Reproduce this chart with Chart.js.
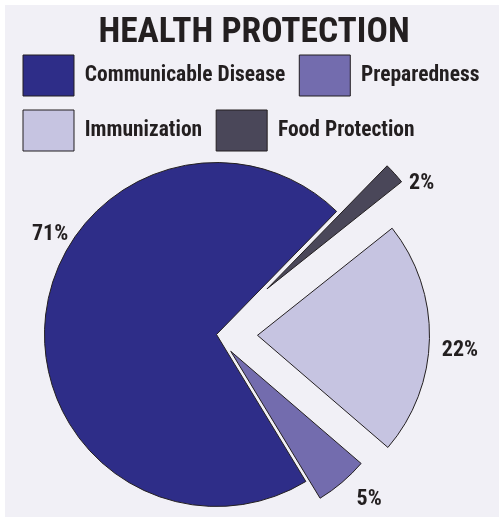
<!DOCTYPE html>
<html>
<head>
<meta charset="utf-8">
<script src="https://cdn.jsdelivr.net/npm/chart.js@4/dist/chart.umd.min.js"></script>
<style>
  html, body { margin: 0; padding: 0; background: #ffffff; overflow: hidden; }
  #chart { position: absolute; left: 5px; top: 5px; background: #f1f0f6; }
</style>
</head>
<body>
<canvas id="chart" width="494" height="512"></canvas>
<script>
// ─── data ───────────────────────────────────────────────────────────────────
const title      = 'HEALTH PROTECTION';
const categories = ['Communicable Disease', 'Preparedness', 'Immunization', 'Food Protection'];
const shares     = [71, 5, 22, 2];   // percent
const colours    = ['#2e2d88', '#736cae', '#c6c4e1', '#4a4759'];

// ─── look ───────────────────────────────────────────────────────────────────
const FONT   = "'Roboto Condensed', Roboto, sans-serif";
const WEIGHT = 'bold condensed';
const INK    = '#231f20';
const RADIUS = 172;
const pulled = [0, 22, 41, 68];          // how far each slice is pulled out, px
const lblDist  = [194, 203, 203, 187];   // label distance from slice tip
const lblShift = [24.4, -2.7, 3.1, 7.9]; // label angle nudge, degrees

// slices run counter-clockwise in the original, so feed them reversed
// and flip the legend back
const rev = a => a.slice().reverse();

// keeps an empty strip on the right so the pie sits left of centre
const sideGap = {
  id: 'sideGap',
  beforeInit(chart, args, opts) {
    Chart.layouts.addBox(chart, {
      position: 'right', weight: 0, fullSize: false, options: {},
      width: 0, height: 0, left: 0, top: 0, right: 0, bottom: 0,
      update(maxW, maxH) { this.width = opts.width; this.height = maxH; },
      isHorizontal() { return false; },
      getPadding() { return { left: 0, top: 0, right: 0, bottom: 0 }; },
      draw() {}
    });
  }
};

// Chart.js moves an arc by offset/4, grows its radius by ro = (offset/4)*fix
// and trims its angle by ro/(PI*R); undo both so pulled slices keep
// the same radius and the same angle as the others
const evenRadius = {
  id: 'evenRadius',
  afterDatasetUpdate(chart, args) {
    args.meta.data.forEach(arc => {
      const off = (arc.options.offset || 0) / 4;
      const fix = 1 - Math.sin(Math.min(Math.PI, arc.circumference || 0));
      const ro = off * fix;
      const widen = ro / (2 * Math.PI * RADIUS);
      arc.outerRadius = RADIUS - ro;
      arc.startAngle -= widen;
      arc.endAngle += widen;
    });
  }
};

// percent labels outside each slice
const pctLabels = {
  id: 'pctLabels',
  afterDatasetsDraw(chart) {
    const ctx = chart.ctx;
    const meta = chart.getDatasetMeta(0);
    const n = categories.length;
    ctx.save();
    ctx.font = `${WEIGHT} 22px ${FONT}`;
    ctx.fillStyle = INK;
    ctx.textAlign = 'center';
    ctx.textBaseline = 'middle';
    meta.data.forEach((arc, j) => {
      const i = n - 1 - j; // back to category order
      const { x, y, startAngle, endAngle } = arc.getProps(['x', 'y', 'startAngle', 'endAngle'], true);
      const mid = (startAngle + endAngle) / 2;
      const off = (arc.options.offset || 0) / 4;
      const a = mid + lblShift[i] * Math.PI / 180;
      const tx = x + Math.cos(mid) * off + Math.cos(a) * lblDist[i];
      const ty = y + Math.sin(mid) * off + Math.sin(a) * lblDist[i];
      ctx.fillText(shares[i] + '%', tx, ty);
    });
    ctx.restore();
  }
};

new Chart(document.getElementById('chart'), {
  type: 'pie',
  data: {
    labels: rev(categories),
    datasets: [{
      data: rev(shares),
      backgroundColor: rev(colours),
      borderColor: INK,
      borderWidth: 1,
      offset: rev(pulled).map(p => p * 4)
    }]
  },
  options: {
    responsive: false,
    animation: false,
    rotation: 44.3,
    radius: RADIUS,
    layout: { padding: { left: 4, right: 0, top: 0, bottom: 9 } },
    plugins: {
      sideGap: { width: 75 },
      title: {
        display: true,
        text: title,
        color: INK,
        font: { family: FONT, size: 35.5, weight: WEIGHT, lineHeight: 1.2 },
        padding: { top: 6.7, bottom: -13.3 }
      },
      legend: {
        position: 'top',
        align: 'start',
        reverse: true,
        labels: {
          boxWidth: 51,
          boxHeight: 41,
          padding: 14,
          color: INK,
          font: { family: FONT, size: 21.5, weight: WEIGHT }
        }
      },
      tooltip: { enabled: false }
    }
  },
  plugins: [sideGap, evenRadius, pctLabels]
});
</script>
</body>
</html>
